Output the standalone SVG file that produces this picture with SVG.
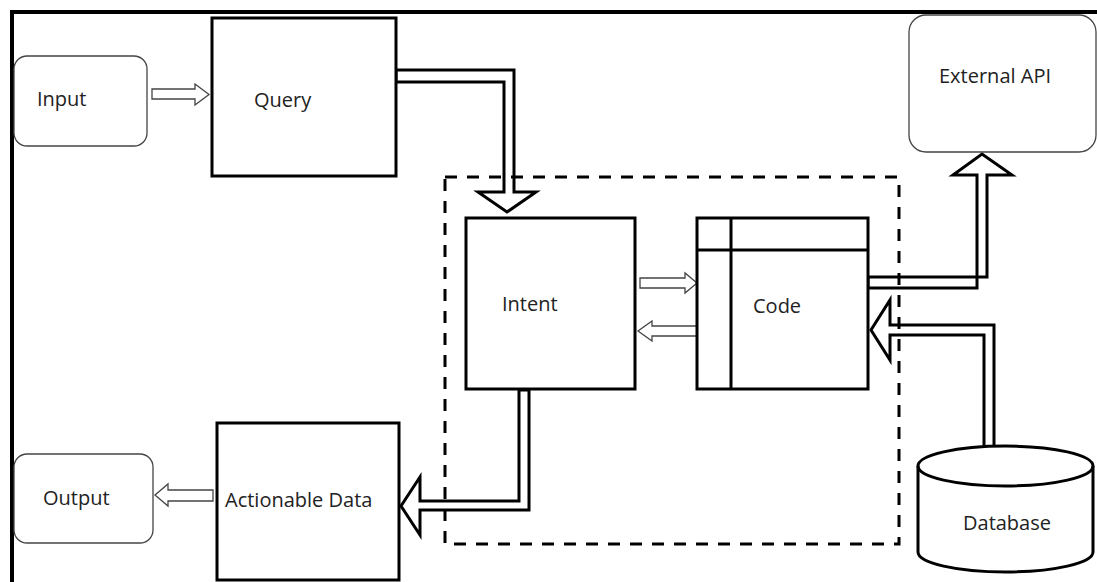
<svg xmlns="http://www.w3.org/2000/svg" width="1097" height="582" viewBox="0 0 1097 582">
  <style>
    .box { fill: #fff; stroke: #000; stroke-width: 3; }
    .soft { fill: #fff; stroke: #444; stroke-width: 1.3; }
    .label { font-family: "Open Sans", "Liberation Sans", sans-serif; font-size: 20px; fill: #222; }
    .thick { fill: #fff; stroke: #000; stroke-width: 3; stroke-linejoin: miter; }
    .thin { fill: #fff; stroke: #444; stroke-width: 1.3; stroke-linejoin: miter; }
    .group { fill: none; stroke: #000; stroke-width: 3; stroke-dasharray: 12 10; }
  </style>

  <rect width="1097" height="582" fill="#fff"/>
  <!-- outer frame, its right and bottom edges run off the page -->
  <rect x="12" y="12" width="1100" height="600" fill="none" stroke="#000" stroke-width="4"/>

  <g id="connectors">
    <polygon class="thin" points="152,89 195,89 195,84 209,94.5 195,105 195,99 152,99"/>
    <polygon class="thick" points="396,70 514,70 514,192 536,192 507,212 478,192 504,192 504,82 396,82"/>
    <polygon class="thin" points="640,278 685,278 685,273 697,283 685,293 685,288 640,288"/>
    <polygon class="thin" points="697,326 652,326 652,321 638,331 652,341 652,336 697,336"/>
    <polygon class="thick" points="868,277 987,277 987,175 1012,175 982,154 953,175 977,175 977,288 868,288"/>
    <polygon class="thick" points="994,447 994,325 890,325 890,300 871,330 890,360 890,335 984,335 984,447"/>
    <polygon class="thick" points="519,390 519,501 420,501 420,477 401,506 420,535 420,510 529,510 529,390"/>
    <polygon class="thin" points="213,490 168,490 168,484 155,495 168,506 168,501 213,501"/>
  </g>

  <g id="input">
    <rect class="soft" x="14" y="56" width="133" height="90" rx="13"/>
    <text class="label" x="37" y="106">Input</text>
  </g>

  <g id="query">
    <rect class="box" x="212" y="18" width="184" height="158"/>
    <text class="label" x="254" y="107">Query</text>
  </g>

  <g id="external-api">
    <rect class="soft" x="909" y="15" width="187" height="137" rx="17"/>
    <text class="label" x="939" y="83">External API</text>
  </g>

  <g id="intent">
    <rect class="box" x="466" y="218" width="169" height="171"/>
    <text class="label" x="502" y="311">Intent</text>
  </g>

  <g id="code">
    <rect class="box" x="697" y="218" width="171" height="171"/>
    <line x1="731" y1="218" x2="731" y2="389" stroke="#000" stroke-width="3"/>
    <line x1="697" y1="250" x2="868" y2="250" stroke="#000" stroke-width="3"/>
    <text class="label" x="753" y="313">Code</text>
  </g>

  <g id="actionable-data">
    <rect class="box" x="217" y="423" width="182" height="157"/>
    <text class="label" x="225" y="507">Actionable Data</text>
  </g>

  <g id="output">
    <rect class="soft" x="14" y="454" width="139" height="89" rx="13"/>
    <text class="label" x="43" y="505">Output</text>
  </g>

  <g id="database">
    <path class="box" d="M918,466 L918,552 A87.5,20 0 0 0 1093,552 L1093,466 A87.5,20 0 0 0 918,466 Z"/>
    <path d="M918,466 A87.5,20 0 0 0 1093,466" fill="none" stroke="#000" stroke-width="3"/>
    <text class="label" x="963" y="530">Database</text>
  </g>

  <!-- dashed boundary around the processing core -->
  <rect id="core-boundary" class="group" x="445" y="177" width="454" height="367"/>
</svg>
